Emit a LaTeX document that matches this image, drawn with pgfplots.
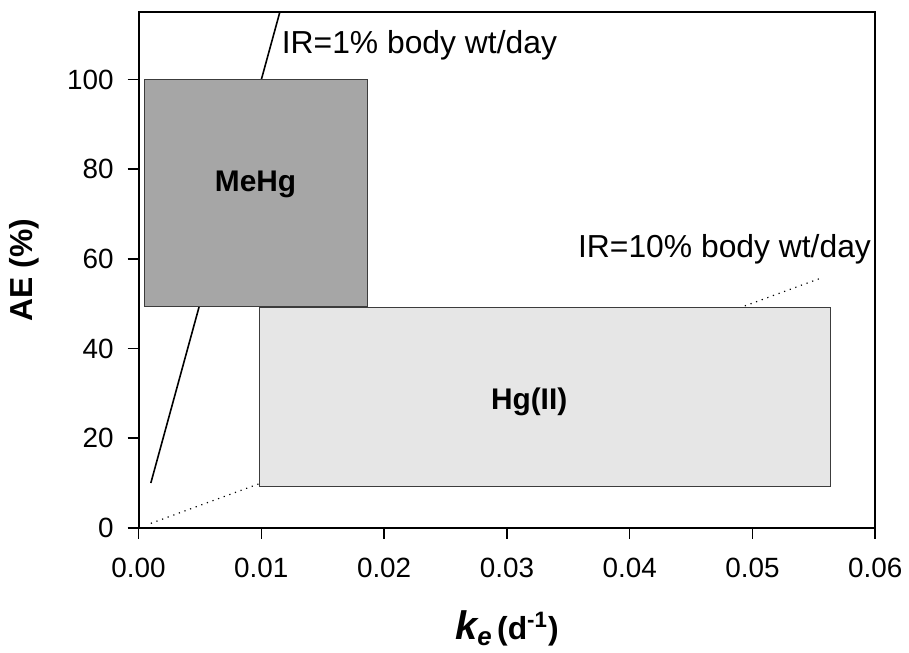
\documentclass[border=0pt]{standalone}
\usepackage{pgfplots}
\pgfplotsset{compat=1.18}
\usepackage{fontspec}
\setmainfont{Liberation Sans}
\definecolor{mehg}{RGB}{166,166,166}
\definecolor{hgii}{RGB}{230,230,230}
\definecolor{edge}{RGB}{60,60,60}
\begin{document}
\begin{tikzpicture}
\begin{axis}[
  name=ax,
  scale only axis,
  width=370.35pt, height=259.35pt,
  xmin=0, xmax=0.06, ymin=0, ymax=115.1,
  xtick={0,0.01,0.02,0.03,0.04,0.05,0.06},
  ytick={0,20,40,60,80,100},
  scaled x ticks=false,
  /pgf/number format/assume math mode=true,
  xticklabel style={/pgf/number format/fixed,/pgf/number format/fixed zerofill,/pgf/number format/precision=2, font=\fontsize{14}{16}\selectfont, yshift=-6pt},
  yticklabel style={font=\fontsize{14}{16}\selectfont, xshift=-3.5pt},
  tick align=outside,
  xtick pos=bottom, ytick pos=left,
  major tick length=5.5pt,
  tick style={black, line width=0.8pt},
  axis line style={black, line width=1pt},
  xlabel={{\fontsize{20}{22}\selectfont\bfseries\itshape k}{\fontsize{13}{14}\selectfont\bfseries\itshape\raisebox{-0.45ex}{e}}\;{\fontsize{16}{18}\selectfont\bfseries (d\textsuperscript{-1})}},
  xlabel style={at={(axis description cs:0.5,-0.2165)}, anchor=base},
  ylabel={\fontsize{16}{18}\selectfont\bfseries AE (\%)},
  ylabel style={at={(axis description cs:-0.1557,0.5)}, anchor=center, rotate=0},
]
% IR lines (drawn first, boxes on top)
\addplot[black, line width=0.8pt] coordinates {(0.001,10) (0.01151,115.1)};
\addplot[black, line width=0.6pt, dash pattern=on 0.6pt off 2.4pt] coordinates {(0.001,1.0) (0.05565,55.8)};
% MeHg box
\addplot[fill=mehg, draw=edge, line width=0.5pt] coordinates {(0.00052,49.3) (0.01864,49.3) (0.01864,100) (0.00052,100)} -- cycle;
% Hg(II) box
\addplot[fill=hgii, draw=edge, line width=0.5pt] coordinates {(0.00989,9.25) (0.05638,9.25) (0.05638,49.1) (0.00989,49.1)} -- cycle;
\node[anchor=base, font=\fontsize{15}{17}\selectfont\bfseries] at (axis cs:0.00953,75.0) {MeHg};
\node[anchor=base, font=\fontsize{15}{17}\selectfont\bfseries] at (axis cs:0.03181,26.4) {Hg(II)};
\node[anchor=base west, inner sep=0pt, font=\fontsize{16}{18}\selectfont] at (axis cs:0.01164,105.9) {IR=1\% body wt/day};
\node[anchor=base east, inner sep=0pt, font=\fontsize{16}{18}\selectfont] at (axis cs:0.05968,60.4) {IR=10\% body wt/day};
\end{axis}
\path[use as bounding box] ([shift={(-69.65pt,-61.65pt)}]ax.south west) rectangle ([shift={(14.5pt,6pt)}]ax.north east);
\end{tikzpicture}
\end{document}
